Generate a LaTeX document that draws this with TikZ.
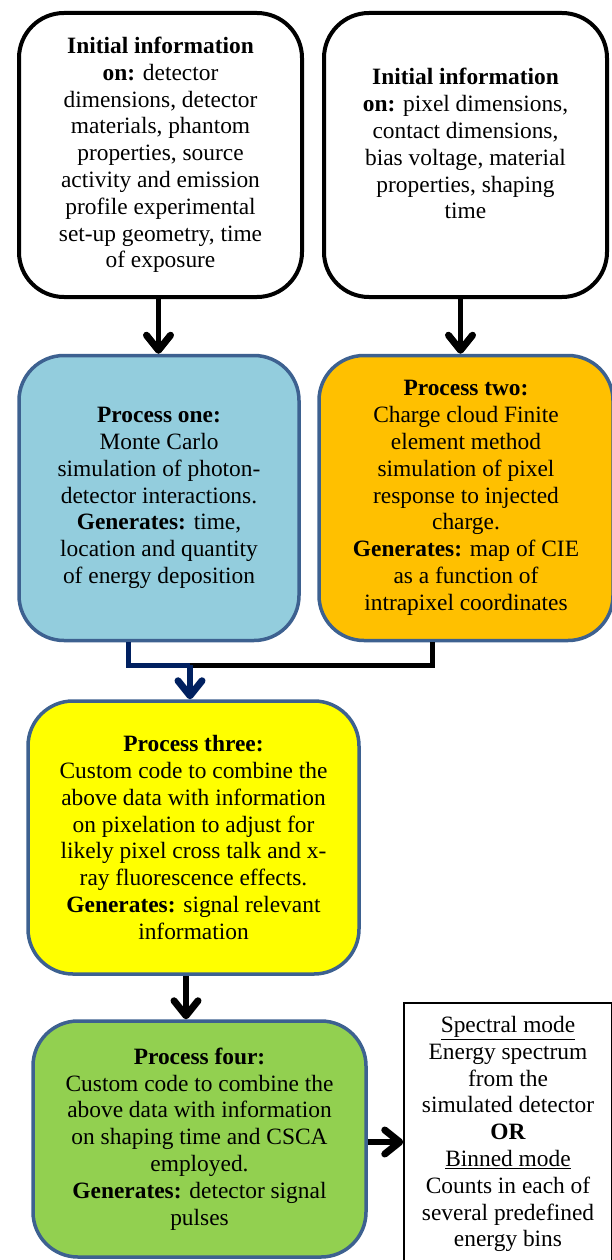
\documentclass[tikz,border=0pt]{standalone}
\usepackage{fontspec}
\setmainfont{Liberation Serif}
\usetikzlibrary{arrows.meta,calc}
\definecolor{pblue}{HTML}{93CDDD}
\definecolor{porange}{HTML}{FFC000}
\definecolor{pyellow}{HTML}{FFFF00}
\definecolor{pgreen}{HTML}{92D050}
\definecolor{pborder}{HTML}{3D6190}
\definecolor{navy}{HTML}{002060}
\tikzset{
  txt/.style={font=\fontsize{23.4}{26.8}\selectfont, align=center, inner sep=0pt},
  infobox/.style={txt, draw=black, line width=4pt, rounded corners=45pt, fill=white},
  procbox/.style={txt, draw=pborder, line width=3.5pt, rounded corners=45pt},
  arr/.style={line width=5.5pt, -{Straight Barb[length=15pt, width=24pt, line width=7pt, round]}},
  conn/.style={line width=5pt},
}
\begin{document}
\begin{tikzpicture}[x=1pt,y=-1pt]
\useasboundingbox (0,0) rectangle (611,1260);
\node[infobox, minimum width=283pt, minimum height=284pt] (iA) at (160.5,155)
  {\textbf{Initial information}\\ \textbf{on:} detector\\ dimensions, detector\\ materials, phantom\\ properties, source\\ activity and emission\\ profile experimental\\ set-up geometry, time\\ of exposure};
\node[infobox, minimum width=283pt, minimum height=284pt] (iB) at (465.5,155)
  {\textbf{Initial information}\\ \textbf{on:} pixel dimensions,\\ contact dimensions,\\ bias voltage, material\\ properties, shaping\\ time\\[-4pt]\mbox{}};
\node[procbox, fill=pblue, minimum width=280pt, minimum height=285pt] (p1) at (159,498)
  {\textbf{Process one:}\\ Monte Carlo\\ simulation of photon-\\ detector interactions.\\ \textbf{Generates:} time,\\ location and quantity\\ of energy deposition};
\node[procbox, fill=porange, minimum width=294pt, minimum height=285pt] (p2) at (466,498)
  {\textbf{Process two:}\\ Charge cloud Finite\\ element method\\ simulation of pixel\\ response to injected\\ charge.\\ \textbf{Generates:} map of CIE\\ as a function of\\ intrapixel coordinates};
\node[procbox, fill=pyellow, minimum width=331pt, minimum height=273pt] (p3) at (193.5,837.5)
  {\textbf{Process three:}\\ Custom code to combine the\\ above data with information\\ on pixelation to adjust for\\ likely pixel cross talk and x-\\ ray fluorescence effects.\\ \textbf{Generates:} signal relevant\\ information};
\node[procbox, fill=pgreen, minimum width=333pt, minimum height=236pt] (p4) at (199.5,1139)
  {\textbf{Process four:}\\ Custom code to combine the\\ above data with information\\ on shaping time and CSCA\\ employed.\\ \textbf{Generates:} detector signal\\ pulses};
\node[txt, draw=black, line width=1.5pt, fill=white, minimum width=208pt, minimum height=262pt] (out) at (508,1134)
  {\underline{Spectral mode}\\ Energy spectrum\\ from the\\ simulated detector\\ \textbf{OR}\\ \underline{Binned mode}\\ Counts in each of\\ several predefined\\ energy bins};
% connectors
\draw[arr] ([xshift=-2pt]iA.south) -- ([xshift=-2pt]iA.south |- p1.north);
\draw[arr] ([xshift=-5pt]iB.south) -- ([xshift=-5pt]iB.south |- p2.north);
\coordinate (m) at (190,665);
\draw[conn, navy, line join=miter] ([xshift=-31pt]p1.south) |- (m);
\draw[conn, black, line join=miter] ([xshift=-34pt]p2.south) |- (m);
\draw[arr, navy] (m) -- (m |- p3.north);
\draw[arr] ([xshift=-7.5pt]p3.south) -- ([xshift=-7.5pt]p3.south |- p4.north);
\draw[arr] (p4.east |- 0,1142) -- (out.west |- 0,1142);
\end{tikzpicture}
\end{document}
